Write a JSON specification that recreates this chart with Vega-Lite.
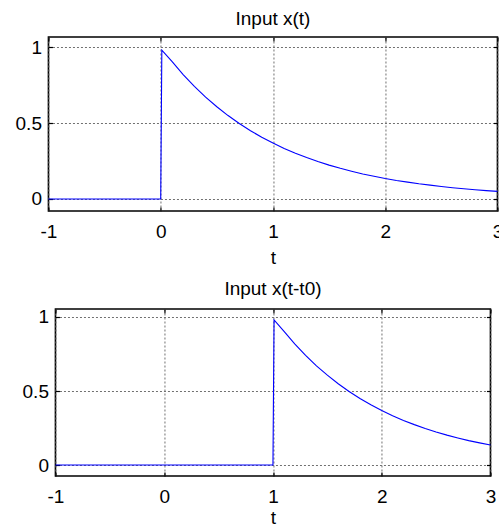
{
  "$schema": "https://vega.github.io/schema/vega-lite/v6.json",
  "padding": {"left": 14, "top": 9, "right": 0, "bottom": 0},
  "config": {
    "font": "Liberation Sans",
    "view": {"stroke": "black", "strokeWidth": 1.6},
    "axis": {
      "labelFont": "Liberation Sans", "labelFontSize": 19, "labelColor": "black", "labelFlush": false,
      "titleFont": "Liberation Sans", "titleFontSize": 19, "titleFontWeight": "normal", "titleColor": "black",
      "gridColor": "#707070", "gridDash": [2, 2], "gridOpacity": 1, "gridWidth": 1,
      "tickColor": "black", "tickSize": -4, "tickWidth": 1.2, "domain": false,
      "labelExpr": "datum.value + ''"
    },
    "title": {"font": "Liberation Sans", "fontSize": 19, "fontWeight": "normal", "color": "black"}
  },
  "datasets": {
    "x1": [
      {"t": -1, "v": 0}, {"t": 0, "v": 0}, {"t": 0.01, "v": 0.98}, {"t": 0.1, "v": 0.905},
      {"t": 0.2, "v": 0.819}, {"t": 0.3, "v": 0.741}, {"t": 0.4, "v": 0.670}, {"t": 0.5, "v": 0.607},
      {"t": 0.6, "v": 0.549}, {"t": 0.7, "v": 0.497}, {"t": 0.8, "v": 0.449}, {"t": 0.9, "v": 0.407},
      {"t": 1.0, "v": 0.368}, {"t": 1.1, "v": 0.333}, {"t": 1.2, "v": 0.301}, {"t": 1.3, "v": 0.273},
      {"t": 1.4, "v": 0.247}, {"t": 1.5, "v": 0.223}, {"t": 1.6, "v": 0.202}, {"t": 1.7, "v": 0.183},
      {"t": 1.8, "v": 0.165}, {"t": 1.9, "v": 0.150}, {"t": 2.0, "v": 0.135}, {"t": 2.1, "v": 0.122},
      {"t": 2.2, "v": 0.111}, {"t": 2.3, "v": 0.100}, {"t": 2.4, "v": 0.091}, {"t": 2.5, "v": 0.082},
      {"t": 2.6, "v": 0.074}, {"t": 2.7, "v": 0.067}, {"t": 2.8, "v": 0.061}, {"t": 2.9, "v": 0.055},
      {"t": 3.0, "v": 0.050}
    ],
    "x2": [
      {"t": -1, "v": 0}, {"t": 1, "v": 0}, {"t": 1.01, "v": 0.98}, {"t": 1.1, "v": 0.905},
      {"t": 1.2, "v": 0.819}, {"t": 1.3, "v": 0.741}, {"t": 1.4, "v": 0.670}, {"t": 1.5, "v": 0.607},
      {"t": 1.6, "v": 0.549}, {"t": 1.7, "v": 0.497}, {"t": 1.8, "v": 0.449}, {"t": 1.9, "v": 0.407},
      {"t": 2.0, "v": 0.368}, {"t": 2.1, "v": 0.333}, {"t": 2.2, "v": 0.301}, {"t": 2.3, "v": 0.273},
      {"t": 2.4, "v": 0.247}, {"t": 2.5, "v": 0.223}, {"t": 2.6, "v": 0.202}, {"t": 2.7, "v": 0.183},
      {"t": 2.8, "v": 0.165}, {"t": 2.9, "v": 0.150}, {"t": 3.0, "v": 0.135}
    ]
  },
  "spacing": 11,
  "center": true,
  "vconcat": [
    {
      "width": 449, "height": 174,
      "title": {"text": "Input x(t)", "offset": 7},
      "data": {"name": "x1"},
      "layer": [
        {
          "mark": {"type": "line", "color": "#0000ff", "strokeWidth": 1.1},
          "encoding": {
            "x": {"field": "t", "type": "quantitative", "scale": {"domain": [-1, 3], "nice": false, "zero": false},
                  "axis": {"values": [-1, 0, 1, 2, 3], "title": "t", "labelPadding": 15, "titlePadding": 7}},
            "y": {"field": "v", "type": "quantitative", "scale": {"domain": [-0.079, 1.066], "nice": false, "zero": false},
                  "axis": {"values": [0, 0.5, 1], "title": null, "labelPadding": 11}}
          }
        },
        {
          "mark": {"type": "line", "opacity": 0},
          "encoding": {
            "x": {"field": "t", "type": "quantitative",
                  "axis": {"orient": "top", "values": [-1, 0, 1, 2, 3], "labels": false, "grid": false, "title": null}},
            "y": {"field": "v", "type": "quantitative",
                  "axis": {"orient": "right", "values": [0, 0.5, 1], "labels": false, "grid": false, "title": null}}
          }
        }
      ],
      "resolve": {"axis": {"x": "independent", "y": "independent"}}
    },
    {
      "width": 435, "height": 167,
      "title": {"text": "Input x(t-t0)", "offset": 9},
      "data": {"name": "x2"},
      "layer": [
        {
          "mark": {"type": "line", "color": "#0000ff", "strokeWidth": 1.1},
          "encoding": {
            "x": {"field": "t", "type": "quantitative", "scale": {"domain": [-1, 3], "nice": false, "zero": false},
                  "axis": {"values": [-1, 0, 1, 2, 3], "title": "t", "labelPadding": 15, "titlePadding": 2}},
            "y": {"field": "v", "type": "quantitative", "scale": {"domain": [-0.074, 1.054], "nice": false, "zero": false},
                  "axis": {"values": [0, 0.5, 1], "title": null, "labelPadding": 11}}
          }
        },
        {
          "mark": {"type": "line", "opacity": 0},
          "encoding": {
            "x": {"field": "t", "type": "quantitative",
                  "axis": {"orient": "top", "values": [-1, 0, 1, 2, 3], "labels": false, "grid": false, "title": null}},
            "y": {"field": "v", "type": "quantitative",
                  "axis": {"orient": "right", "values": [0, 0.5, 1], "labels": false, "grid": false, "title": null}}
          }
        }
      ],
      "resolve": {"axis": {"x": "independent", "y": "independent"}}
    }
  ]
}
